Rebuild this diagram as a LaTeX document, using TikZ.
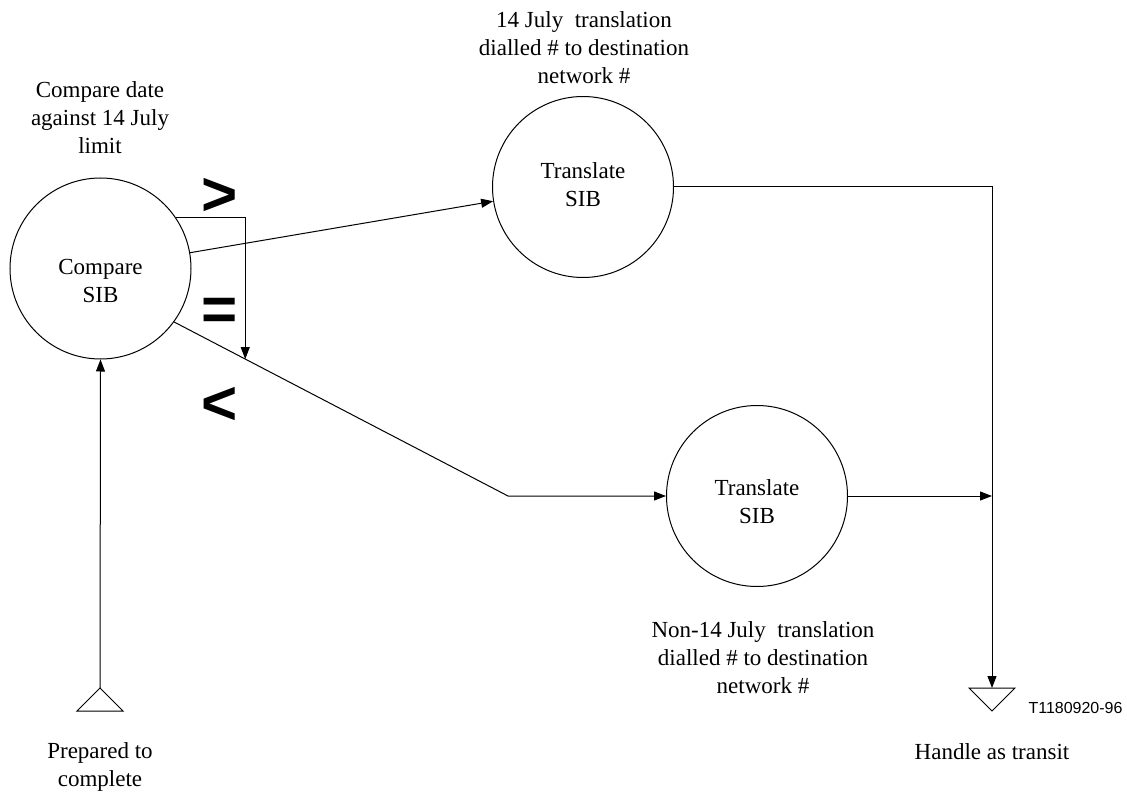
\documentclass[tikz,border=0pt]{standalone}
\usepackage{fontspec}
\setmainfont{Liberation Serif}
\newfontfamily\arialf{Liberation Sans}
\usetikzlibrary{arrows.meta,calc}
\begin{document}
\begin{tikzpicture}[x=1pt,y=-1pt,
  line width=1pt,
  sib/.style={draw, circle, minimum size=181pt, inner sep=0pt},
  lbl/.style={align=center, inner sep=0pt, font=\fontsize{23}{28}\selectfont},
  sym/.style={inner sep=0pt, font=\arialf\bfseries\fontsize{62}{62}\selectfont},
  code/.style={inner sep=0pt, anchor=west, font=\arialf\fontsize{16}{16}\selectfont},
  arr/.style={-{Triangle[length=12pt,width=9pt]}}
]
\useasboundingbox (0,0) rectangle (1127,794);

% circles
\node[sib] (cmp) at (100.5,268.5) {};
\node[sib] (t1) at (583,187) {};
\node[sib] (t2) at (757,496) {};
\node[lbl] (cmpt) at (100.5,281) {Compare\\SIB};
\node[lbl] (t1t) at (583,185) {Translate\\SIB};
\node[lbl] (t2t) at (757,502) {Translate\\SIB};

% labels
\node[lbl] (lcmp) at (100,118) {Compare date\\against 14 July\\limit};
\node[lbl] (lt1) at (584,48) {14 July\ \ translation\\dialled \# to destination\\network \#};
\node[lbl] (lt2) at (763,658) {Non-14 July\ \ translation\\dialled \# to destination\\network \#};
\node[lbl] (lsrc) at (100,767) {Prepared to\\complete};
\node[lbl] (lsnk) at (992,752) {Handle as transit};
\node[code] (ref) at (1028,708) {T1180920-96};

% comparison symbols
\node[sym] (gt) at (220,197) {>};
\node[sym] (eq) at (220,314) {=};
\node[sym] (lt) at (220,406) {<};

% terminals
\coordinate (src) at (100,688);
\coordinate (snk) at (992,688);
\draw[line join=miter] (src) -- ++(-23,23) -- ++(46,0) -- cycle;
\draw[line join=miter] (snk) ++(-23,0) -- ++(46,0) -- ++(-23,23) -- cycle;

% helper coordinates
\coordinate (bend) at (508,496);
\coordinate (jn) at (992,496);
\path (cmp.-36) -- (bend) coordinate[pos=0.213] (eqend);

% connectors
\draw[arr] (src) -- (cmp.south);
\draw[arr] (cmp.10) -- (t1.189.5);
\draw[arr] (cmp.34) -| (eqend);
\draw[arr] (cmp.-36) -- (bend) -- (t2.west);
\draw[arr] (t1.east) -| (snk);
\draw[arr] (t2.east) -- (jn);
\end{tikzpicture}
\end{document}
